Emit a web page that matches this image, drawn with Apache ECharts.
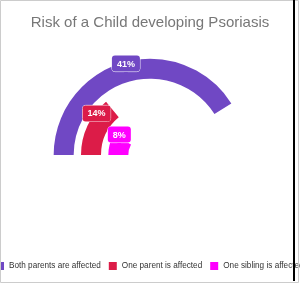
<!DOCTYPE html>
<html>
<head>
<meta charset="utf-8">
<script src="https://cdn.jsdelivr.net/npm/echarts@6/dist/echarts.min.js"></script>
<style>
html,body{margin:0;padding:0;background:#fff;}
#c{width:300px;height:285px;}
</style>
</head>
<body>
<div id="c"></div>
<script>
const titleText = 'Risk of a Child developing Psoriasis';
const categories = ['One sibling is affected', 'One parent is affected', 'Both parents are affected'];
const values = [8, 14, 41];
const colors = ['#ff00ff', '#dc1c48', '#7048c4'];
const legendOrder = ['Both parents are affected', 'One parent is affected', 'One sibling is affected'];
const labelLift = [-10, -14, -6];

const chart = echarts.init(document.getElementById('c'), null, {renderer: 'canvas'});
const series = categories.map((name, i) => ({
  name: name,
  type: 'bar',
  coordinateSystem: 'polar',
  stack: 'all',
  barWidth: 20,
  data: categories.map((c, j) => j === i ? values[i] : '-'),
  itemStyle: {color: colors[i]},
  label: {
    show: true,
    position: 'middle',
    rotate: 0,
    offset: [0, labelLift[i]],
    formatter: p => '{b|' + p.value + '%}\n{a|▼}',
    rich: {
      b: {
        backgroundColor: colors[i],
        color: '#fff',
        fontWeight: 'bold',
        fontSize: 9,
        fontFamily: 'Liberation Sans',
        padding: [4, 5, 3, 5],
        borderRadius: 3,
        borderColor: '#fff',
        borderWidth: 0.5,
        align: 'center'
      },
      a: {
        color: colors[i],
        fontSize: 7,
        lineHeight: 5,
        align: 'center'
      }
    }
  }
}));

chart.setOption({
  animation: false,
  title: {
    text: titleText,
    left: 'center',
    top: 10,
    textStyle: {fontSize: 15, fontWeight: 'normal', color: '#777', fontFamily: 'Liberation Sans'}
  },
  polar: {center: ['50%', 155], radius: [18, 100]},
  angleAxis: {max: 100, startAngle: 180, clockwise: true, show: false},
  radiusAxis: {type: 'category', data: categories, show: false},
  legend: {
    data: legendOrder,
    left: -4,
    padding: 0,
    width: 600,
    top: 262,
    itemWidth: 8,
    itemHeight: 8,
    itemGap: 8,
    icon: 'rect',
    textStyle: {fontSize: 8.2, color: '#333', fontFamily: 'Liberation Sans', padding: [0, 0, 0, 0]}
  },
  graphic: [
    {type: 'rect', shape: {x: 0.5, y: 0.5, width: 298, height: 282}, style: {fill: 'none', stroke: '#ccc', lineWidth: 1}, z: 100},
    {type: 'line', shape: {x1: 294, y1: 0, x2: 294, y2: 281}, style: {stroke: '#000', lineWidth: 2}, z: 101}
  ],
  series: series
});
</script>
</body>
</html>
